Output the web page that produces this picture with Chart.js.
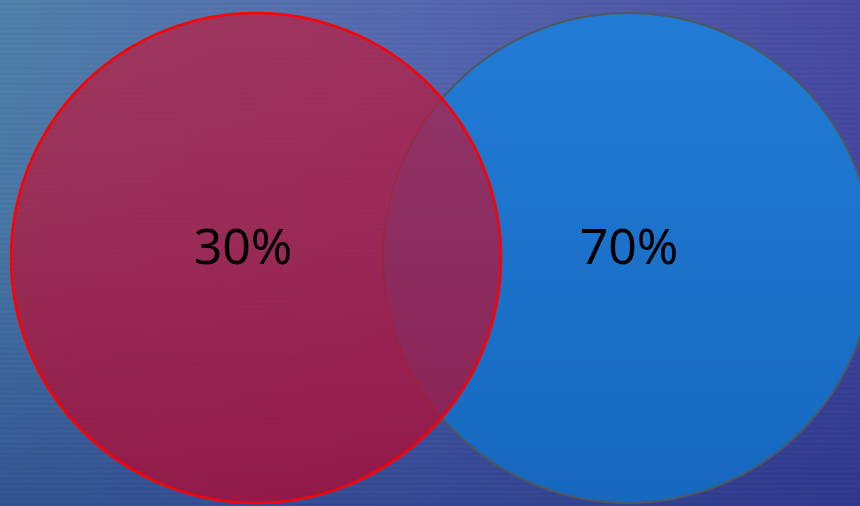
<!DOCTYPE html>
<html>
<head>
<meta charset="utf-8">
<script src="https://cdn.jsdelivr.net/npm/chart.js@4.4.1/dist/chart.umd.min.js"></script>
<style>
    html, body {
        margin: 0;
        padding: 0;
    }
    body {
        width: 860px;
        height: 506px;
        overflow: hidden;
        background:
            repeating-linear-gradient(180deg, rgba(255,255,255,0.015) 0px, rgba(255,255,255,0.015) 2px, rgba(0,0,0,0.015) 3px, rgba(0,0,0,0.015) 5px),
            linear-gradient(180deg, rgba(20,45,130,0) 0%, rgba(20,45,130,0.12) 45%, rgba(20,40,120,0.5) 100%),
            linear-gradient(90deg, rgb(78,128,170) 0%, rgb(85,105,175) 45%, rgb(72,72,162) 100%);
    }
    .wrap {
        position: relative;
        width: 860px;
        height: 506px;
    }
</style>
</head>
<body>
<div class="wrap">
    <canvas id="myChart1"></canvas>
</div>
<script>
// venn sets (red on top, blue behind)
var setLabels = ['30%', '70%'];
var setShares = [30, 70];
var centerX = [256, 628];
var centerY = [258, 258];
var radius = [245, 245];

var ctx1 = document.getElementById('myChart1').getContext('2d');

// writes the share in the middle of each circle
var vennLabels = {
    id: 'vennLabels',
    afterDatasetsDraw: function(chart) {
        var c = chart.ctx;
        c.save();
        c.fillStyle = '#000';
        c.font = '50px "Noto Sans", "Open Sans", sans-serif';
        c.textAlign = 'center';
        c.textBaseline = 'alphabetic';
        chart.data.datasets.forEach(function(ds, i) {
            var meta = chart.getDatasetMeta(i);
            meta.data.forEach(function(pt) {
                c.fillText(ds.label, pt.x + ds.labelShift, pt.y + 6);
            });
        });
        c.restore();
    }
};

function point(i) {
    return [{ x: centerX[i], y: centerY[i], r: radius[i], share: setShares[i] }];
}

// top-to-bottom shading of a circle fill
function shade(top, bottom) {
    return function(context) {
        var area = context.chart.chartArea;
        if (!area) return top;
        var g = context.chart.ctx.createLinearGradient(0, 0, 0, 506);
        g.addColorStop(0, top);
        g.addColorStop(1, bottom);
        return g;
    };
}

var myChart1 = new Chart(ctx1, {
    type: 'bubble',
    data: {
        datasets: [{
            label: setLabels[0],
            data: point(0),
            backgroundColor: shade('rgba(190, 28, 62, 0.70)', 'rgba(175, 10, 50, 0.76)'),
            borderColor: 'rgb(255, 0, 0)',
            borderWidth: 2.5,
            hoverRadius: 0,
            labelShift: -13,
            clip: false,
            order: 0
        },
        {
            label: setLabels[1],
            data: point(1),
            backgroundColor: shade('rgb(34, 124, 214)', 'rgb(22, 104, 190)'),
            borderColor: 'rgb(78, 88, 96)',
            borderWidth: 2,
            hoverRadius: 0,
            labelShift: 1,
            clip: false,
            order: 1
        }]
    },
    options: {
        responsive: true,
        maintainAspectRatio: false,
        animation: false,
        events: [],
        layout: { padding: 0, autoPadding: false },
        plugins: {
            legend: { display: false },
            tooltip: { enabled: false }
        },
        scales: {
            x: { type: 'linear', min: 0, max: 860, display: false },
            y: { type: 'linear', min: 0, max: 506, reverse: true, display: false }
        }
    },
    plugins: [vennLabels]
});
</script>
</body>
</html>
